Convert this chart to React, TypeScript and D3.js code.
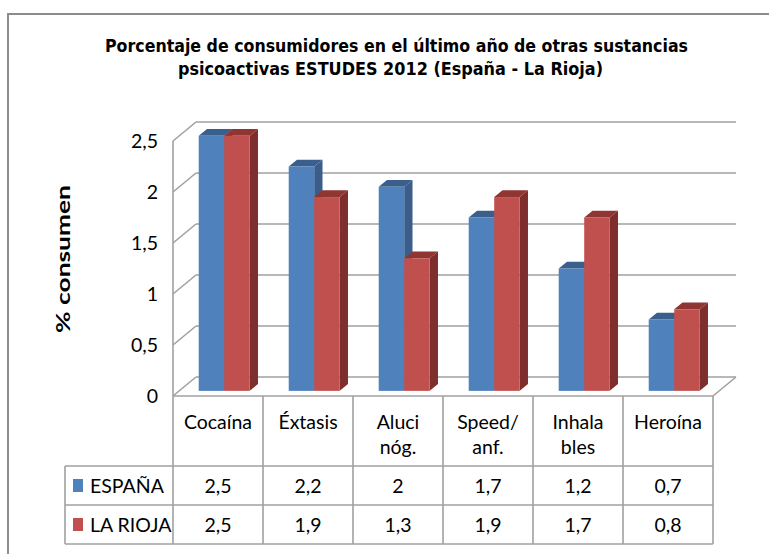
import React from 'react';
import * as d3 from 'd3';

const categories = ['Cocaína', 'Éxtasis', 'Aluci nóg.', 'Speed/ anf.', 'Inhala bles', 'Heroína'];
const categoryLines = [['Cocaína'], ['Éxtasis'], ['Aluci', 'nóg.'], ['Speed/', 'anf.'], ['Inhala', 'bles'], ['Heroína']];
const seriesNames = ['ESPAÑA', 'LA RIOJA'];
const espana = [2.5, 2.2, 2, 1.7, 1.2, 0.7];
const laRioja = [2.5, 1.9, 1.3, 1.9, 1.7, 0.8];
const yTicks = [0, 0.5, 1, 1.5, 2, 2.5];
const titleLines = [
  'Porcentaje de consumidores  en el último año  de  otras sustancias',
  'psicoactivas ESTUDES 2012  (España - La Rioja)',
];

const colors = [
  { front: '#4f81bd', top: '#3b5f8d', side: '#3a5d8a' },
  { front: '#c0504d', top: '#8f3532', side: '#7e2f2d' },
];

const fmt = (v: number) => String(v).replace('.', ',');

const W = 769;
const H = 554;
const left = 173;
const right = 713;
const floorY = 396;
const depthX = 23;
const depthY = 19;
const f0 = 0.27;
const f1 = 0.63;

const font = 'Lato, "DejaVu Sans", sans-serif';
const gridColor = '#a0a0a0';

export default function App() {
  const y = d3.scaleLinear().domain([0, 2.5]).range([floorY, 141]);
  const x0 = d3.scaleBand<string>().domain(categories).range([left, right]);
  const x1 = d3.scaleBand<string>().domain(seriesNames).range([0, x0.bandwidth()]).paddingOuter(0.765);
  const series = [espana, laRioja];

  const rowTop = floorY;
  const rowSeries = [466, 505, 544];
  const colXs = categories.map((c) => x0(c) as number).concat([right]);

  const bars: JSX.Element[] = [];
  categories.forEach((c, i) => {
    series.forEach((vals, s) => {
      const v = vals[i];
      const bx = (x0(c) as number) + (x1(seriesNames[s]) as number) + f0 * depthX;
      const bw = x1.bandwidth();
      const yt = y(v) - f0 * depthY;
      const yb = y(0) - f0 * depthY;
      const dx = (f1 - f0) * depthX;
      const dy = (f1 - f0) * depthY;
      const col = colors[s];
      bars.push(
        <g key={`${c}-${s}`}>
          <polygon
            points={`${bx + bw},${yt} ${bx + bw + dx},${yt - dy} ${bx + bw + dx},${yb - dy} ${bx + bw},${yb}`}
            fill={col.side}
          />
          <polygon
            points={`${bx},${yt} ${bx + bw},${yt} ${bx + bw + dx},${yt - dy} ${bx + dx},${yt - dy}`}
            fill={col.top}
          />
          <rect x={bx} y={yt} width={bw} height={yb - yt} fill={col.front} />
        </g>
      );
    });
  });

  return (
    <svg
      width={W}
      height={H}
      style={{ position: 'absolute', left: 0, top: 0, background: '#fff' }}
    >
      <rect x={8} y={14} width={W + 20} height={H} fill="#fff" stroke="#8c8c8c" strokeWidth={2} />

      {titleLines.map((t, i) => (
        <text
          key={t}
          x={i === 0 ? 105 : 178}
          y={i === 0 ? 52 : 75}
          textLength={i === 0 ? 583 : 425}
          lengthAdjust="spacingAndGlyphs"
          fontFamily='"DejaVu Sans", "Liberation Sans", sans-serif'
          fontWeight="bold"
          fontSize={17}
          fill="#000"
        >
          {t}
        </text>
      ))}

      {/* gridlines: back wall and left wall */}
      {yTicks.map((t) => (
        <g key={t} stroke={gridColor} strokeWidth={1.6} fill="none">
          <line x1={left + depthX} x2={right + depthX} y1={y(t) - depthY} y2={y(t) - depthY} />
          <line x1={left} x2={left + depthX} y1={y(t)} y2={y(t) - depthY} />
        </g>
      ))}
      <line x1={left} x2={left} y1={y(2.5)} y2={floorY} stroke={gridColor} strokeWidth={1.6} />
      <line x1={right} x2={right + depthX} y1={floorY} y2={floorY - depthY} stroke={gridColor} strokeWidth={1.6} />

      {yTicks.map((t) => (
        <text
          key={`lbl-${t}`}
          x={158}
          y={y(t) + 7}
          textAnchor="end"
          fontFamily={font}
          fontSize={19.5}
          fill="#000"
        >
          {fmt(t)}
        </text>
      ))}

      <text
        transform="translate(70,259) rotate(-90)"
        textAnchor="middle"
        fontFamily={font}
        fontWeight="bold"
        fontSize={19}
        textLength={148}
        lengthAdjust="spacingAndGlyphs"
        fill="#000"
      >
        % consumen
      </text>

      {bars}

      {/* data table */}
      <g stroke={gridColor} strokeWidth={1.6}>
        <line x1={left} x2={right} y1={rowTop} y2={rowTop} />
        {rowSeries.map((ry) => (
          <line key={ry} x1={65} x2={right} y1={ry} y2={ry} />
        ))}
        {colXs.map((cx) => (
          <line key={cx} x1={cx} x2={cx} y1={rowTop} y2={rowSeries[2]} />
        ))}
        <line x1={65} x2={65} y1={rowSeries[0]} y2={rowSeries[2]} />
      </g>

      {categoryLines.map((lines, i) => (
        <text
          key={categories[i]}
          x={(x0(categories[i]) as number) + x0.bandwidth() / 2}
          y={429}
          textAnchor="middle"
          fontFamily={font}
          fontSize={19.5}
          fill="#000"
        >
          {lines.map((l, j) => (
            <tspan key={l} x={(x0(categories[i]) as number) + x0.bandwidth() / 2} dy={j === 0 ? 0 : 25}>
              {l}
            </tspan>
          ))}
        </text>
      ))}

      {seriesNames.map((name, s) => (
        <g key={name}>
          <rect x={73} y={rowSeries[s] + 13} width={10} height={13} fill={colors[s].front} />
          <text x={90} y={rowSeries[s] + 27} fontFamily={font} fontSize={19.5} fill="#000">
            {name}
          </text>
          {series[s].map((v, i) => (
            <text
              key={i}
              x={(x0(categories[i]) as number) + x0.bandwidth() / 2}
              y={rowSeries[s] + 27}
              textAnchor="middle"
              fontFamily={font}
              fontSize={19.5}
              fill="#000"
            >
              {fmt(v)}
            </text>
          ))}
        </g>
      ))}
    </svg>
  );
}
